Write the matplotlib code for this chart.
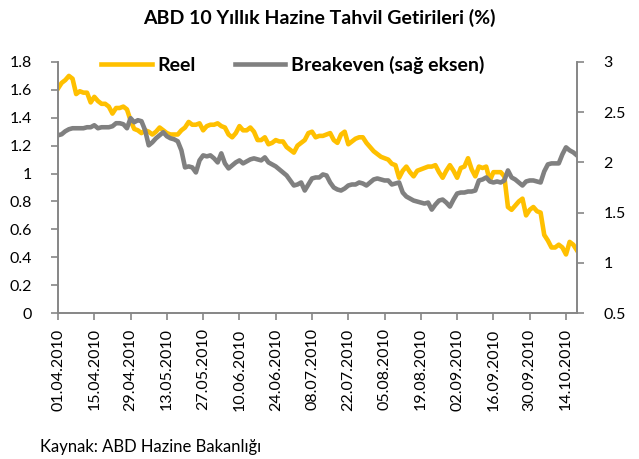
import matplotlib
matplotlib.use("Agg")
import matplotlib.pyplot as plt
import pandas as pd

plt.rcParams["font.family"] = ["Lato", "DejaVu Sans"]

# is gunleri, 01.04.2010 - 19.10.2010
dates = pd.bdate_range("2010-04-01", periods=144)

reel = [
    1.61, 1.65, 1.67, 1.70, 1.68, 1.57, 1.59, 1.58, 1.58, 1.51,
    1.55, 1.52, 1.50, 1.50, 1.48, 1.43, 1.47, 1.47, 1.48, 1.46,
    1.38, 1.32, 1.31, 1.29, 1.31, 1.30, 1.28, 1.30, 1.33, 1.31,
    1.29, 1.28, 1.28, 1.28, 1.31, 1.33, 1.37, 1.35, 1.35, 1.36,
    1.31, 1.34, 1.35, 1.35, 1.36, 1.34, 1.33, 1.28, 1.26, 1.29,
    1.34, 1.31, 1.31, 1.33, 1.30, 1.24, 1.24, 1.26, 1.21, 1.22,
    1.24, 1.23, 1.23, 1.19, 1.17, 1.15, 1.20, 1.22, 1.24, 1.29,
    1.30, 1.26, 1.27, 1.27, 1.28, 1.29, 1.24, 1.22, 1.28, 1.30,
    1.21, 1.23, 1.25, 1.26, 1.26, 1.22, 1.19, 1.16, 1.14, 1.12,
    1.11, 1.10, 1.07, 1.06, 0.97, 1.02, 1.05, 1.01, 0.98, 1.02,
    1.03, 1.04, 1.05, 1.05, 1.06, 1.01, 0.97, 1.02, 1.06, 1.02,
    0.97, 1.04, 1.05, 1.11, 1.03, 0.98, 1.05, 1.04, 1.05, 0.95,
    1.01, 1.01, 1.01, 0.98, 0.76, 0.74, 0.77, 0.80, 0.82, 0.70,
    0.74, 0.76, 0.73, 0.72, 0.56, 0.52, 0.47, 0.47, 0.49, 0.47,
    0.42, 0.51, 0.49, 0.45,
]

breakeven = [
    2.27, 2.28, 2.31, 2.33, 2.34, 2.34, 2.34, 2.34, 2.35, 2.35,
    2.37, 2.34, 2.35, 2.35, 2.35, 2.36, 2.39, 2.39, 2.38, 2.34,
    2.44, 2.40, 2.42, 2.41, 2.32, 2.17, 2.20, 2.24, 2.27, 2.30,
    2.26, 2.24, 2.23, 2.21, 2.12, 1.95, 1.96, 1.95, 1.90, 2.02,
    2.07, 2.06, 2.07, 2.04, 2.00, 2.09, 1.99, 1.94, 1.97, 2.00,
    2.02, 1.99, 2.01, 2.03, 2.04, 2.03, 2.02, 2.05, 2.00, 1.98,
    1.96, 1.93, 1.90, 1.87, 1.82, 1.77, 1.78, 1.80, 1.72, 1.78,
    1.84, 1.85, 1.85, 1.88, 1.87, 1.80, 1.75, 1.73, 1.72, 1.74,
    1.77, 1.78, 1.78, 1.80, 1.79, 1.77, 1.80, 1.83, 1.84, 1.83,
    1.82, 1.82, 1.78, 1.79, 1.80, 1.70, 1.66, 1.64, 1.62, 1.61,
    1.60, 1.59, 1.60, 1.53, 1.58, 1.62, 1.63, 1.60, 1.56, 1.63,
    1.69, 1.70, 1.70, 1.71, 1.71, 1.72, 1.82, 1.83, 1.85, 1.81,
    1.80, 1.81, 1.80, 1.82, 1.92, 1.85, 1.83, 1.80, 1.77, 1.81,
    1.82, 1.82, 1.81, 1.80, 1.91, 1.98, 1.99, 1.99, 1.99, 2.08,
    2.15, 2.12, 2.10, 2.07,
]

left_ticks = [0, 0.2, 0.4, 0.6, 0.8, 1, 1.2, 1.4, 1.6, 1.8]
left_labels = ["0", "0.2", "0.4", "0.6", "0.8", "1", "1.2", "1.4", "1.6", "1.8"]
right_ticks = [0.5, 1, 1.5, 2, 2.5, 3]
right_labels = ["0.5", "1", "1.5", "2", "2.5", "3"]

yellow = "#FFC000"
grey = "#808080"
axis_col = "#868686"

fig = plt.figure(figsize=(6.39, 4.59), dpi=100)
ax = fig.add_axes([0.0908, 0.318, 0.812, 0.547])
ax2 = ax.twinx()

x = list(range(len(dates)))
l1, = ax.plot(x, reel, color=yellow, lw=3.3, solid_joinstyle="round", label="Reel")
l2, = ax2.plot(x, breakeven, color=grey, lw=3.3, solid_joinstyle="round",
               label="Breakeven (sağ eksen)")

ax.set_xlim(0, len(dates) - 1)
ax.set_ylim(0, 1.8)
ax2.set_ylim(0.5, 3)

ax.set_yticks(left_ticks)
ax.set_yticklabels(left_labels)
ax2.set_yticks(right_ticks)
ax2.set_yticklabels(right_labels)

xt = list(range(0, len(dates), 10))
ax.set_xticks(xt)
ax.set_xticklabels([dates[i].strftime("%d.%m.%Y") for i in xt], rotation=90)

for a in (ax, ax2):
    for s in a.spines.values():
        s.set_color(axis_col)
        s.set_linewidth(1.2)
    a.spines["top"].set_visible(False)
    a.tick_params(colors=axis_col, labelcolor="black", labelsize=11.5,
                  length=5, width=1.2)
ax.tick_params(axis="y", pad=14)
ax2.tick_params(axis="y", pad=14)
ax.tick_params(axis="x", pad=6)

fig.text(0.5, 0.96, "ABD 10 Yıllık Hazine Tahvil Getirileri (%)",
         ha="center", va="center", fontsize=14, fontweight="bold")

fig.legend(handles=[l1, l2], loc="center", bbox_to_anchor=(0.458, 0.858),
           ncol=2, frameon=False, handlelength=2.6, columnspacing=2.0,
           handletextpad=0.3, prop={"weight": "bold", "size": 14})

fig.text(0.062, 0.026, "Kaynak: ABD Hazine Bakanlığı", ha="left", va="center",
         fontsize=12)

fig.savefig("out.png", dpi=100)
